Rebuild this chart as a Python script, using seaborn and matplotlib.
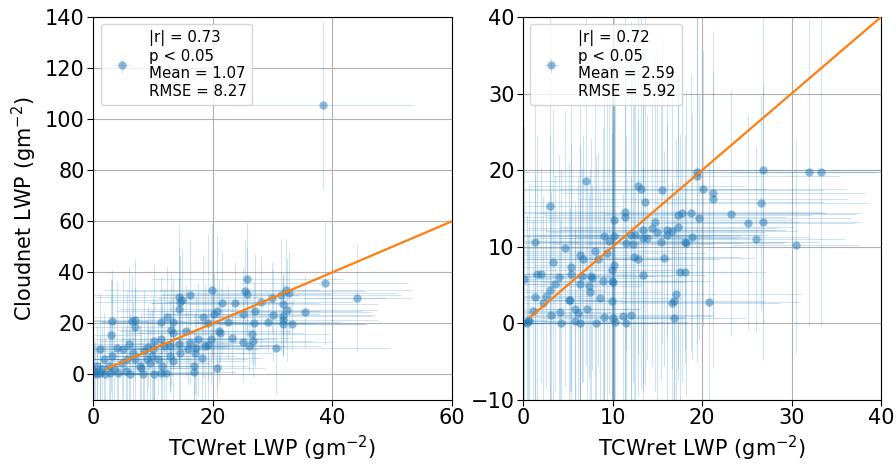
import matplotlib
matplotlib.use("Agg")
import matplotlib.pyplot as plt
import seaborn as sns
import pandas as pd

# left panel: TCWret vs Cloudnet (all points)
x_left = [38.4, 38.7, 44.2, 25.8, 19.9, 25.4, 25.7, 16.2, 14.3, 14.9, 14.6, 14.4, 32.2, 32.7, 31.4,
          29.9, 28.1, 21.6, 23.8, 31.7, 32.5, 27.0, 25.0, 20.7, 20.2, 18.3, 19.3, 22.5, 30.1, 31.7,
          31.7, 29.2, 26.9, 31.8, 33.3, 35.5, 12.4, 11.4, 13.3, 13.0, 13.3, 6.6, 7.1, 7.0, 3.1,
          3.0, 15.5, 21.2, 21.1, 23.2, 25.1, 26.6, 26.8, 26.1, 30.6, 20.8, 16.9, 16.9, 17.2, 18.2,
          18.7, 19.7, 19.2, 17.6, 16.2, 15.8, 14.4, 12.8, 11.8, 11.3, 10.2, 10.1, 9.8, 9.2, 8.5,
          11.3, 10.2, 8.4, 6.7, 7.0, 5.6, 4.8, 3.1, 1.8, 1.1, 0.6, 0.3, 0.6, 1.1, 2.8,
          4.2, 6.1, 12.8, 14.5, 12.2, 5.0, 7.8, 9.5, 13.4, 17.0, 10.9, 2.6, 0.2, 1.5, 2.0,
          3.5, 5.5, 8.0, 9.0, 11.5, 4.0, 6.0]
y_left = [105.5, 35.7, 30.1, 37.3, 32.9, 32.5, 31.4, 31.2, 30.5, 29.3, 28.3, 25.8, 32.9, 32.0, 31.0,
          30.1, 28.3, 27.9, 27.9, 27.6, 25.2, 25.0, 23.7, 24.7, 23.6, 22.6, 20.0, 20.5, 23.2, 22.8,
          21.5, 20.7, 20.0, 19.6, 19.7, 24.4, 22.6, 20.7, 20.5, 17.6, 16.3, 21.1, 21.3, 18.4, 21.1,
          15.3, 17.2, 16.4, 17.2, 14.1, 12.9, 15.7, 13.0, 11.0, 10.2, 2.7, 3.3, 0.9, 10.2, 6.4,
          11.1, 13.7, 11.7, 13.7, 12.4, 10.0, 11.9, 11.1, 11.1, 14.0, 13.3, 9.8, 7.2, 10.8, 9.1,
          0.4, 0.3, 0.0, 8.5, 5.9, 5.9, 4.6, 7.2, 5.9, 10.0, 3.3, 0.7, 0.0, 0.7, 0.7,
          0.4, 0.0, 7.2, 8.5, 0.7, 9.8, 3.3, 4.6, 5.2, 8.5, 5.9, 3.3, 1.5, 2.0, 0.3,
          2.0, 1.5, 2.5, 6.0, 3.5, 10.5, 12.0]
xerr_left = [15, 14, 9, 16, 18, 20, 14, 18, 14, 12, 16, 10, 21, 18, 20,
             19, 16, 12, 14, 16, 15, 18, 13, 17, 12, 14, 16, 11, 17, 15,
             16, 12, 10, 14, 12, 11, 13, 10, 12, 9, 8, 9, 8, 7, 6,
             5, 11, 14, 12, 10, 15, 13, 10, 12, 19, 8, 9, 7, 12, 10,
             14, 9, 11, 13, 10, 12, 9, 14, 11, 12, 9, 10, 8, 13, 9,
             6, 7, 5, 8, 10, 7, 6, 9, 5, 8, 4, 3, 2, 4, 5,
             6, 7, 11, 12, 8, 11, 9, 10, 12, 13, 15, 6, 3, 4, 5,
             6, 7, 8, 9, 10, 7, 8]
yerr_left = [33, 24, 21, 22, 26, 20, 18, 22, 28, 20, 18, 24, 20, 16, 22,
             14, 18, 20, 16, 12, 20, 22, 18, 30, 16, 24, 35, 14, 18, 16,
             14, 12, 16, 12, 10, 14, 20, 18, 16, 22, 14, 18, 24, 16, 20,
             22, 18, 12, 20, 14, 16, 12, 14, 10, 18, 12, 14, 11, 20, 16,
             24, 18, 14, 22, 16, 14, 26, 18, 22, 16, 30, 20, 18, 16, 24,
             12, 14, 11, 20, 16, 26, 14, 30, 18, 22, 16, 12, 11, 14, 20,
             12, 24, 14, 18, 12, 28, 16, 20, 22, 16, 14, 18, 12, 16, 14,
             20, 18, 22, 16, 24, 26, 30]

# right panel
x_right = [19.4, 19.4, 26.8, 31.9, 33.3, 7.0, 12.8, 13.2, 15.5, 20.1, 21.2, 21.2, 13.6, 3.0, 26.6,
           23.2, 25.1, 26.8, 26.0, 30.5, 11.4, 11.4, 10.2, 14.7, 14.4, 15.0, 17.3, 17.8, 18.8, 19.7,
           17.3, 16.1, 16.6, 16.1, 18.9, 18.1, 18.2, 15.4, 13.4, 13.4, 13.9, 12.5, 12.1, 12.3, 11.5,
           9.0, 9.6, 10.2, 1.3, 4.7, 8.0, 6.4, 6.7, 9.4, 8.4, 12.4, 12.8, 15.8, 3.3, 5.4,
           10.2, 9.9, 13.4, 17.5, 18.1, 1.6, 2.0, 0.1, 4.0, 5.4, 6.6, 7.6, 7.7, 8.9, 9.9,
           10.1, 3.6, 6.4, 7.4, 7.5, 9.9, 8.6, 5.1, 5.2, 7.2, 17.1, 16.9, 16.7, 20.8, 16.9,
           1.3, 2.6, 3.0, 2.2, 1.1, 0.6, 0.4, 0.7, 3.1, 4.1, 4.3, 5.8, 6.1, 5.8, 6.4,
           8.2, 9.1, 10.3, 11.2, 11.5, 12.1, 10.0, 0.0]
y_right = [19.8, 19.2, 20.0, 19.7, 19.7, 18.6, 18.0, 17.6, 17.4, 17.6, 17.0, 16.2, 15.9, 15.3, 15.7,
           14.3, 13.1, 13.2, 11.0, 10.2, 14.5, 13.9, 13.5, 13.2, 12.4, 11.9, 14.1, 14.4, 14.4, 13.8,
           12.6, 12.2, 12.0, 11.5, 11.3, 10.6, 10.5, 10.6, 12.2, 11.2, 11.2, 11.6, 11.5, 10.3, 10.5,
           11.4, 10.8, 11.4, 10.6, 9.8, 9.5, 8.9, 8.4, 9.2, 8.4, 8.7, 8.4, 8.5, 8.0, 7.3,
           7.6, 7.0, 6.3, 6.7, 6.7, 6.5, 6.4, 5.8, 6.0, 6.4, 6.2, 6.2, 5.9, 5.5, 5.5,
           5.4, 5.2, 5.1, 4.9, 4.1, 2.9, 3.3, 3.1, 3.0, 1.9, 3.9, 2.9, 2.7, 2.8, 0.7,
           3.5, 3.6, 4.4, 2.6, 1.6, 0.5, 0.1, 0.3, 1.1, 1.5, 0.0, 1.9, 1.3, 0.3, 0.0,
           0.0, 0.8, 0.2, 1.0, 0.0, 1.1, 0.7, 0.1]
xerr_right = [20, 16, 14, 12, 10, 9, 12, 14, 18, 16, 17, 15, 20, 8, 12,
              14, 12, 11, 10, 7, 22, 18, 20, 16, 14, 12, 15, 16, 19, 17,
              13, 12, 14, 11, 13, 15, 11, 14, 16, 12, 10, 14, 11, 9, 13,
              12, 10, 14, 5, 8, 9, 7, 10, 11, 8, 12, 9, 10, 6, 7,
              9, 8, 7, 8, 9, 4, 5, 3, 6, 7, 8, 9, 6, 10, 11,
              8, 5, 7, 6, 8, 7, 9, 6, 4, 6, 14, 10, 12, 10, 8,
              4, 5, 6, 4, 3, 2, 2, 3, 5, 6, 5, 7, 6, 5, 8,
              7, 9, 8, 10, 7, 9, 8, 2]
yerr_right = [25, 22, 20, 20, 20, 24, 22, 26, 20, 18, 16, 22, 24, 26, 14,
              16, 14, 18, 12, 14, 26, 24, 28, 22, 18, 24, 20, 22, 18, 16,
              20, 14, 18, 22, 16, 14, 20, 18, 24, 20, 16, 22, 28, 18, 14,
              24, 20, 26, 22, 18, 24, 20, 16, 22, 14, 20, 18, 14, 20, 16,
              22, 28, 14, 18, 12, 18, 14, 20, 16, 22, 14, 18, 12, 20, 26,
              16, 14, 18, 12, 16, 22, 14, 18, 12, 16, 20, 14, 16, 18, 12,
              16, 12, 20, 14, 12, 11, 14, 18, 16, 12, 20, 14, 18, 12, 16,
              22, 14, 30, 16, 12, 18, 26, 10]

panels = [
    dict(x=x_left, y=y_left, xerr=xerr_left, yerr=yerr_left, line=[2.2, 60],
         xlim=(0, 60), ylim=(-10, 140),
         label="|r| = 0.73\np < 0.05\nMean = 1.07\nRMSE = 8.27"),
    dict(x=x_right, y=y_right, xerr=xerr_right, yerr=yerr_right, line=[0.8, 40],
         xlim=(0, 40), ylim=(-10, 40),
         label="|r| = 0.72\np < 0.05\nMean = 2.59\nRMSE = 5.92"),
]

sns.set_style("whitegrid", rc={"axes.edgecolor": "black", "grid.color": "#b0b0b0",
                               "xtick.bottom": True, "ytick.left": True,
                               "axes.linewidth": 0.8, "text.color": "black",
                               "axes.labelcolor": "black", "xtick.color": "black",
                               "ytick.color": "black"})
plt.rcParams["font.family"] = ["DejaVu Sans"]

fig = plt.figure(figsize=(8.96, 4.68), dpi=100)
ax1 = fig.add_axes([0.1038, 0.1453, 0.4007, 0.8184])
ax2 = fig.add_axes([0.5837, 0.1453, 0.3996, 0.8184])

for ax, p in zip([ax1, ax2], panels):
    eb = ax.errorbar(p["x"], p["y"], xerr=p["xerr"], yerr=p["yerr"], fmt="o", color="C0",
                     ms=6, mew=0, alpha=0.5, elinewidth=0.8, label=p["label"], zorder=2)
    for lc in eb[2]:
        lc.set_alpha(0.2)
    line_df = pd.DataFrame({"a": p["line"], "b": p["line"]})
    sns.lineplot(data=line_df, x="a", y="b", color="C1", lw=1.6, ax=ax, zorder=3)
    ax.set_xlim(*p["xlim"])
    ax.set_ylim(*p["ylim"])
    ax.set_xlabel("TCWret LWP (gm$^{-2}$)", fontsize=15)
    ax.set_ylabel("")
    ax.tick_params(labelsize=15, length=4, width=0.8, color="black", pad=2)
    ax.legend(loc="upper left", fontsize=10.8)

ax1.set_ylabel("Cloudnet LWP (gm$^{-2}$)", fontsize=15)
ax1.set_yticks(range(0, 141, 20))
ax2.set_yticks(range(-10, 41, 10))
ax2.set_xticks(range(0, 41, 10))

fig.savefig("out.png", dpi=100)
